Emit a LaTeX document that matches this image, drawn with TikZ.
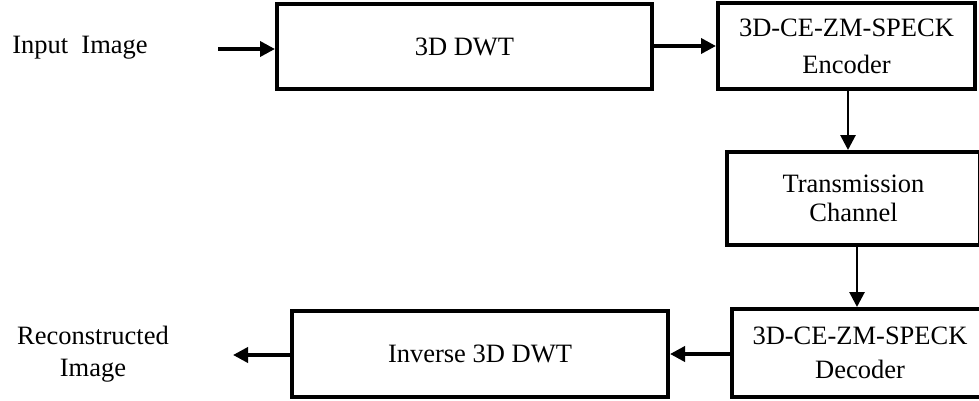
\documentclass[tikz,border=0pt]{standalone}
\usepackage{fontspec}
\setmainfont{Liberation Serif}
\usetikzlibrary{arrows.meta}
\begin{document}
\begin{tikzpicture}[x=1pt,y=1pt,
  blk/.style={draw,line width=4pt,inner sep=0pt,align=center,font=\fontsize{26.5}{34}\selectfont},
  lbl/.style={inner sep=0pt,align=center,font=\fontsize{26.5}{32}\selectfont},
  arr/.style={line width=3.6pt,-{Triangle[length=15pt,width=15pt]}},
  varr/.style={line width=2.8pt,-{Triangle[length=15pt,width=15pt]}}]
\clip (0,0) rectangle (979,400);
\node[lbl] (in) at (80,352) {Input\ \ Image};
\coordinate (inA) at (218,351);
\node[blk,minimum width=375pt,minimum height=85pt] (dwt) at (464.5,353.5) {3D DWT};
\node[blk,minimum width=257pt,minimum height=86pt,font=\fontsize{26.5}{37}\selectfont] (enc) at (846.5,354) {3D-CE-ZM-SPECK\\Encoder};
\node[blk,minimum width=253pt,minimum height=93pt,font=\fontsize{26.5}{29}\selectfont] (tx) at (853.5,201.5) {Transmission\\Channel};
\node[blk,minimum width=256pt,minimum height=88pt] (dec) at (860,47) {3D-CE-ZM-SPECK\\Decoder};
\node[blk,minimum width=376pt,minimum height=86pt] (inv) at (480,46) {Inverse 3D DWT};
\node[lbl] (out) at (93,46) {Reconstructed\\Image};
\coordinate (outA) at (233,45);
\draw[arr] (inA) -- (dwt.west|-inA);
\draw[arr] (dwt.east|-enc) -- (enc.west);
\draw[varr] (enc.south-|848,0) -- (tx.north-|848,0);
\draw[varr] (tx.south-|857,0) -- (dec.north-|857,0);
\draw[arr] (dec.west|-0,46) -- (inv.east|-0,46);
\draw[arr] (inv.west|-outA) -- (outA);
\end{tikzpicture}
\end{document}
